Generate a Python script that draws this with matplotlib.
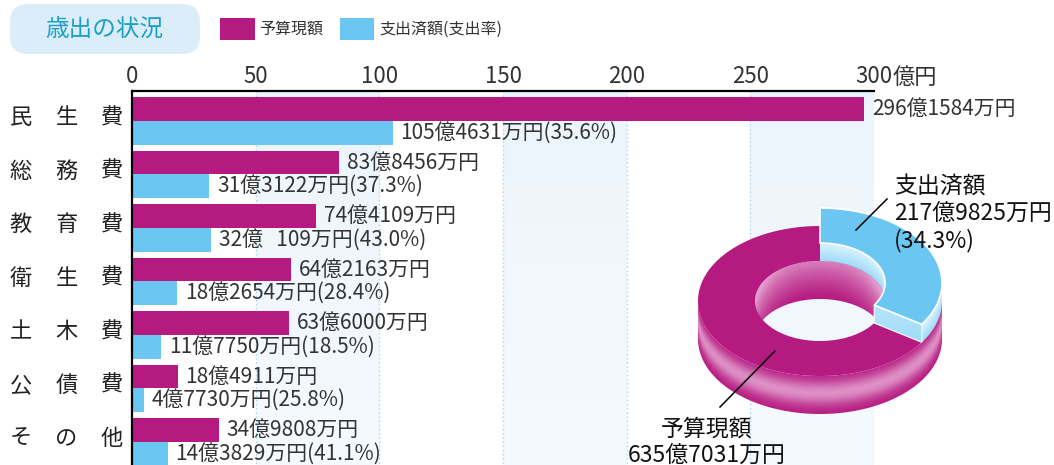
import numpy as np
import matplotlib
matplotlib.use("Agg")
import matplotlib.pyplot as plt
import matplotlib.transforms as mtransforms
from matplotlib.patches import Polygon, Rectangle, FancyBboxPatch, PathPatch
from matplotlib.path import Path

plt.rcParams['font.family'] = ['Noto Sans CJK JP', 'DejaVu Sans']

# ── Data (万円) ──────────────────────────────────────────────────────────────
categories = ["民生費", "総務費", "教育費", "衛生費", "土木費", "公債費", "その他"]
budget_man = [2961584, 838456, 744109, 642163, 636000, 184911, 349808]
spent_man = [1054631, 313122, 320109, 182654, 117750, 47730, 143829]
spent_rate = [35.6, 37.3, 43.0, 28.4, 18.5, 25.8, 41.1]
x_ticks = [0, 50, 100, 150, 200, 250, 300]

total_budget_man = 6357031
total_spent_man = 2179825
total_rate = 34.3

# ── Style ────────────────────────────────────────────────────────────────────
W, H = 1054, 465
MAG = np.array([0.71, 0.10, 0.50])
MAG_LIGHT = np.array([0.93, 0.74, 0.88])
BLUE = np.array([0.42, 0.78, 0.95])
BLUE_LIGHT = np.array([0.93, 0.98, 1.0])
TXT = "#333333"
FS = 15

AX_LEFT, AX_RIGHT, AX_TOP = 132, 874, 91
Y_TOP, Y_BOT = -0.56, 6.43
BAR_H = 0.44

# donut geometry (pixels)
CX, CY = 820, 301
RX, RY = 122, 75
RIX, RIY = 65, 40
DEPTH = 38
LIFT = 18


def oku_man(v):
    oku, man = divmod(v, 10000)
    return f"{oku}億{man:4d}万円".replace(" ", "\u2007")


def ell(cx, cy, rx, ry, th):
    t = np.radians(th)
    return np.column_stack([cx + rx * np.cos(t), cy - ry * np.sin(t)])


def grad_fill(ax, verts, colfunc, zorder):
    poly = Polygon(verts, closed=True, facecolor="none", edgecolor="none")
    ax.add_patch(poly)
    x0, y0 = np.floor(verts.min(axis=0)) - 1
    x1, y1 = np.ceil(verts.max(axis=0)) + 1
    X, Y = np.meshgrid(np.arange(x0, x1) + 0.5, np.arange(y0, y1) + 0.5)
    img = np.clip(colfunc(X, Y), 0, 1)
    im = ax.imshow(img, extent=(x0, x1, y1, y0), origin="upper",
                   aspect="auto", zorder=zorder, interpolation="bilinear")
    im.set_clip_path(poly)


def mix(c0, c1, g):
    g = g[..., None]
    return c0 * (1 - g) + c1 * g


fig = plt.figure(figsize=(W / 100, H / 100), dpi=100)

# ── Bar chart ────────────────────────────────────────────────────────────────
ax = fig.add_axes([AX_LEFT / W, 0, (AX_RIGHT - AX_LEFT) / W, (H - AX_TOP) / H])
idx = np.arange(len(categories))
budget = np.array(budget_man) / 10000
spent = np.array(spent_man) / 10000

# background bands
grad = np.linspace(0, 1, 100)[:, None, None]
band = (1 - grad) * np.array([0.925, 0.96, 0.99]) + grad * np.array([0.96, 0.98, 0.995])
for lo in x_ticks[1::2]:
    ax.imshow(band, extent=(lo, lo + 50, Y_BOT, Y_TOP), aspect="auto", zorder=0)
ax.vlines(x_ticks[1:], Y_TOP, Y_BOT, colors="#a6d6ef", linestyles=(0, (1, 2)),
          linewidth=1, zorder=0.5)

ax.barh(idx - BAR_H / 2, budget, height=BAR_H, color=MAG, zorder=2)
ax.barh(idx + BAR_H / 2, spent, height=BAR_H, color=BLUE, zorder=2)

for i in idx:
    ax.annotate(oku_man(budget_man[i]), xy=(budget[i], i - BAR_H / 2),
                xytext=(5.5, 0), textcoords="offset points", ha="left",
                va="center", fontsize=FS, color=TXT, annotation_clip=False)
    ax.annotate(f"{oku_man(spent_man[i])}({spent_rate[i]:.1f}%)",
                xy=(spent[i], i + BAR_H / 2), xytext=(5.5, 0),
                textcoords="offset points", ha="left", va="center",
                fontsize=FS, color=TXT, annotation_clip=False)

ax.set_xlim(0, 300)
ax.set_ylim(Y_BOT, Y_TOP)
ax.xaxis.tick_top()
ax.set_xticks(x_ticks)
ax.set_xticklabels([str(t) for t in x_ticks])
ax.tick_params(axis="x", length=0, pad=2, labelsize=16, labelcolor=TXT)
ax.set_yticks([])
for s in ("right", "bottom"):
    ax.spines[s].set_visible(False)
for s in ("left", "top"):
    ax.spines[s].set_linewidth(1.6)
    ax.spines[s].set_color("black")
ax.annotate("億円", xy=(300, Y_TOP), xytext=(13.5, 1.4), textcoords="offset points",
            ha="left", va="bottom", fontsize=16, color=TXT, annotation_clip=False)

# ── Overlay in pixel coordinates ─────────────────────────────────────────────
ov = fig.add_axes([0, 0, 1, 1], zorder=5)
ov.set_facecolor("none")
ov.axis("off")

# category labels, characters spread out
trans = mtransforms.blended_transform_factory(ov.transData, ax.transData)
for i, name in enumerate(categories):
    for j, ch in enumerate(name):
        ov.text(21 + 45.5 * j, i - 0.06, ch, transform=trans, ha="center",
                va="center", fontsize=16, color="#222222")

# title box and legend
ov.add_patch(FancyBboxPatch((10, 4), 190, 50, boxstyle="round,pad=0,rounding_size=18",
                            facecolor="#dcedfa", edgecolor="none"))
ov.text(104, 30, "歳出の状況", ha="center", va="center", fontsize=17, color="#1aa0c4")
ov.add_patch(Rectangle((220, 18), 35, 22, facecolor=MAG, edgecolor="none"))
ov.text(259, 29, "予算現額", ha="left", va="center", fontsize=11.5, color=TXT)
ov.add_patch(Rectangle((340, 18), 34, 22, facecolor=BLUE, edgecolor="none"))
ov.text(379, 29, "支出済額(支出率)", ha="left", va="center", fontsize=11.5, color=TXT)

# ── 3D donut ─────────────────────────────────────────────────────────────────
frac = total_spent_man / total_budget_man
th_end = 90 - 360 * frac


def mag_outer(X, Y):
    dx = np.clip((X - CX) / RX, -1, 1)
    yt = CY + RY * np.sqrt(1 - dx ** 2)
    f = np.clip((Y - yt) / DEPTH, 0, 1)
    g = 0.72 * np.exp(-((f - 0.45) / 0.32) ** 2)
    return mix(MAG, MAG_LIGHT, g)


def mag_inner(X, Y):
    dx = np.clip((X - CX) / RIX, -1, 1)
    yt = CY - RIY * np.sqrt(1 - dx ** 2)
    f = np.clip((Y - yt) / DEPTH, 0, 1)
    g = np.clip(0.62 * (1 - f) ** 1.2 + 0.35 * np.abs(dx) ** 3, 0, 0.8)
    return mix(MAG, MAG_LIGHT, g)


def blue_wall(top_rx, top_ry, sign):
    def fn(X, Y):
        dx = np.clip((X - CX) / top_rx, -1, 1)
        yt = CY - LIFT + sign * top_ry * np.sqrt(1 - dx ** 2)
        f = np.clip((Y - yt) / LIFT, 0, 1)
        return mix(BLUE, BLUE_LIGHT, 0.85 - 0.45 * f)
    return fn


def blue_face(X, Y):
    f = np.clip((Y - (CY - LIFT)) / (RIY + LIFT), 0, 1)
    return mix(BLUE, BLUE_LIGHT, 0.7 - 0.3 * f)


# magenta ring
th = np.linspace(0, 180, 120)
top = ell(CX, CY, RIX, RIY, th)
grad_fill(ov, np.vstack([top, (top + [0, DEPTH])[::-1]]), mag_inner, 6)

th = np.linspace(180, 360, 160)
top = ell(CX, CY, RX, RY, th)
grad_fill(ov, np.vstack([top, (top + [0, DEPTH])[::-1]]), mag_outer, 6)

th = np.linspace(0, 360, 241)
outer = ell(CX, CY, RX, RY, th)
inner = ell(CX, CY, RIX, RIY, th[::-1])
ring = Path(np.vstack([outer, inner]),
            [Path.MOVETO] + [Path.LINETO] * (len(outer) - 1)
            + [Path.MOVETO] + [Path.LINETO] * (len(inner) - 1))
ov.add_patch(PathPatch(ring, facecolor=MAG, edgecolor="none", zorder=7))

# raised blue slice
yb = CY - LIFT
th = np.linspace(max(th_end, 0), 90, 80)
top = ell(CX, yb, RIX, RIY, th)
grad_fill(ov, np.vstack([top, (top + [0, LIFT])[::-1]]), blue_wall(RIX, RIY, -1), 8)

o_t = ell(CX, yb, RX, RY, [th_end])[0]
i_t = ell(CX, yb, RIX, RIY, [th_end])[0]
cut = np.array([o_t, i_t, i_t + [0, LIFT], o_t + [0, LIFT]])
grad_fill(ov, cut, blue_face, 8)
ov.add_patch(Polygon(cut, closed=True, facecolor="none", edgecolor="white",
                     linewidth=0.8, zorder=8.5))

if th_end < 0:
    th = np.linspace(th_end, 0, 60)
    top = ell(CX, yb, RX, RY, th)
    grad_fill(ov, np.vstack([top, (top + [0, LIFT])[::-1]]), blue_wall(RX, RY, 1), 8)

th = np.linspace(90, th_end, 120)
sector = np.vstack([ell(CX, yb, RX, RY, th), ell(CX, yb, RIX, RIY, th[::-1])])
ov.add_patch(Polygon(sector, closed=True, facecolor=BLUE, edgecolor="white",
                     linewidth=1.2, zorder=9))

# leader lines and labels
ov.plot([856, 887], [230, 199], color="black", linewidth=1.1, zorder=10)
ov.plot([775, 720], [351, 407], color="black", linewidth=1.1, zorder=10)
ov.text(894, 214, f"支出済額\n{oku_man(total_spent_man)}\n({total_rate:.1f}%)",
        ha="left", va="center", fontsize=16.5, color="#111111", linespacing=1.2, zorder=10)
ov.text(707, 442, f"予算現額\n{oku_man(total_budget_man)}", ha="center",
        va="center", fontsize=16.5, color="#111111", linespacing=1.2, zorder=10)

ov.set_xlim(0, W)
ov.set_ylim(H, 0)

fig.savefig("out.png", dpi=100)
